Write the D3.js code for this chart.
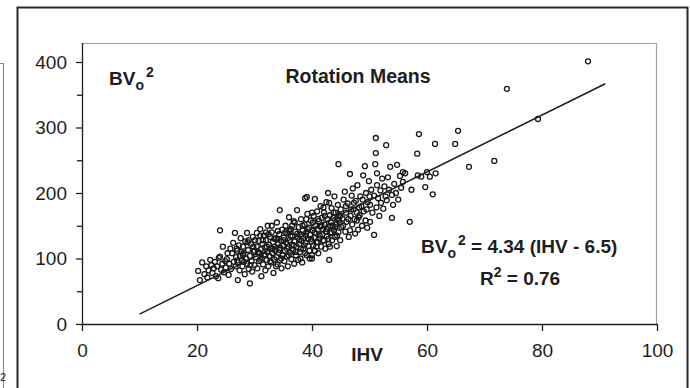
<!DOCTYPE html>
<html>
<head>
<meta charset="utf-8">
<script src="https://cdn.jsdelivr.net/npm/d3@7"></script>
<style>
  body { margin: 0; background: #fff; }
  text { font-family: Arial, "Liberation Sans", sans-serif; fill: #1e1e1e; }
</style>
</head>
<body>
<script>
// tick values
var xTicks = [0, 20, 40, 60, 80, 100];
var yTicks = [0, 100, 200, 300, 400];
var yMinorTicks = [50, 150, 250, 350];

// fitted line: BVo2 = 4.34 (IHV - 6.5), drawn from IHV 10 to 91
var slope = 4.34;
var offset = 6.5;
var lineRange = [10, 91];

// rotation means, [IHV, BVo2]
var rotationMeans = [
  [20.2,81],[20.5,67],[20.9,94],[21.3,76],[21.6,88],[21.8,71],[22,82],[22.3,98],[22.5,90],[22.7,78],
  [22.9,85],[23.1,95],[23.3,73],[23.5,88],[23.7,70],[23.8,101],[24,103],[24,143],[24.2,83],[24.5,118],
  [24.4,92],[24.7,79],[24.9,96],
  [25,86],[25.2,99],[25.3,108],[25.5,75],[25.6,92],[25.8,115],[25.9,84],[26.1,108],[26.3,124],[26.4,95],
  [26.6,139],[26.7,88],[26.8,102],[27,112],[27.1,67],[27.1,94],[27.3,120],[27.4,82],[27.5,104],[27.6,131],
  [27.8,97],[27.9,88],[28,118],[28.1,108],[28.3,76],[28.4,126],[28.5,100],[28.7,139],[28.7,92],[28.9,113],
  [29,84],[29.2,62],[29.2,104],[29.4,122],[29.5,96],[29.6,80],[29.7,133],[29.9,110],[30,90],
  [30.2,102],[30.4,139],[30.4,118],[30.5,85],[30.7,127],[30.8,96],[30.9,108],[31,145],[31.1,114],[31.2,73],
  [31.3,100],[31.4,122],[31.5,91],[31.6,135],[31.7,106],[31.8,117],[31.9,82],[32,128],[32.1,98],[32.2,110],
  [32.3,150],[32.4,88],[32.5,121],[32.6,104],[32.7,133],[32.8,115],[32.9,94],[33,140],[33.1,108],[33.2,125],
  [33.3,78],[33.4,99],[33.5,118],[33.6,112],[33.7,131],[33.8,102],[33.9,155],[34,91],[34.1,122],[34.2,109],
  [34.3,137],[34.4,174],[34.4,97],[34.5,116],[34.6,127],[34.7,85],[34.8,144],[34.9,105],[35,120],
  [35.1,132],[35.2,96],[35.3,112],[35.4,150],[35.5,124],[35.6,103],[35.7,138],[35.8,88],[35.9,118],[36,163],
  [36.1,128],[36.2,109],[36.3,145],[36.4,99],[36.5,121],[36.6,134],[36.7,113],[36.8,157],[36.9,92],[37,126],
  [37.1,141],[37.2,105],[37.3,118],[37.4,174],[37.5,132],[37.6,98],[37.7,148],[37.8,122],[37.9,110],[38,137],
  [38.1,160],[38.2,127],[38.3,94],[38.4,143],[38.5,115],[38.6,131],[38.7,152],[38.8,192],[38.8,108],[38.9,124],
  [39,140],[39.1,105],[39.1,194],[39.2,168],[39.3,130],[39.4,119],[39.5,147],[39.6,100],[39.7,136],[39.8,158],
  [39.9,126],[40,105],[40,100],
  [40.1,143],[40.2,120],[40.3,165],[40.4,132],[40.5,191],[40.5,112],[40.6,150],[40.7,138],[40.8,125],[40.9,172],
  [41,144],[41.1,108],[41.2,157],[41.3,130],[41.4,149],[41.5,180],[41.6,118],[41.7,162],[41.8,137],[41.9,145],
  [42,127],[42.1,170],[42.2,152],[42.3,115],[42.4,141],[42.5,186],[42.6,134],[42.7,160],[42.8,200],[42.8,148],
  [42.9,122],[43,98],[43.1,118],[43.1,166],[43.2,139],[43.3,155],[43.4,177],[43.5,128],[43.6,150],[43.7,162],
  [43.8,143],[43.9,195],[44,133],[44.1,170],[44.2,152],[44.3,119],[44.4,160],[44.5,182],[44.6,244],[44.6,140],
  [44.7,166],[44.8,155],[44.9,128],[45,175],
  [45.1,148],[45.3,161],[45.5,190],[45.7,202],[45.8,141],[45.9,170],[46,156],[46.2,184],[46.4,133],[46.6,229],
  [46.6,143],[46.7,165],[46.9,196],[47,152],[47.1,207],[47.2,175],[47.4,160],[47.5,138],[47.6,188],[47.8,170],
  [47.9,212],[48,144],[48.1,163],[48.3,166],[48.4,195],[48.6,180],[48.7,150],[48.9,227],[49,172],[49.2,241],
  [49.3,158],[49.4,200],[49.6,147],[49.7,186],[49.9,218],[50.1,156],[50.1,182],[50.3,205],[50.5,170],
  [50.8,136],[50.8,196],[51,244],[51.1,261],[51.1,284],[51.2,178],[51.3,230],[51.3,212],[51.5,192],[51.7,165],
  [51.9,204],[52,185],[52.2,222],[52.4,176],[52.6,210],[52.8,195],[52.9,273],[53,189],[53.2,224],[53.4,205],
  [53.6,240],[53.9,197],[53.9,162],[54.1,182],[54.3,214],[54.6,200],[54.8,243],[55,190],[55.3,226],[55.5,208],
  [55.8,232],[55.8,217],[56.2,230],[57,156],[57.3,205],[58.3,260],[58.4,227],[58.6,290],[59,225],[59.7,209],
  [60,232],[60.5,225],[61,198],[61.4,275],[61.5,230],[64.9,275],[65.4,295],[67.3,240],[71.7,249],[73.9,359],
  [79.3,313],[88,401],
  // second pass over the dense core
  [26.9,115],[27.7,110],[28.2,95],[28.8,125],[29.3,90],[29.8,118],[30.1,128],[30.6,110],[31.05,98],[31.45,128],
  [31.9,105],[32.15,118],[32.45,137],[32.75,96],[33.15,115],[33.45,130],[33.75,88],[34.05,142],[34.35,113],[34.65,100],
  [35.05,128],[35.35,140],[35.65,115],[35.95,105],[36.25,135],[36.55,150],[36.85,120],[37.15,110],[37.45,138],[37.75,128],
  [38.05,115],[38.35,150],[38.65,120],[38.95,135],[39.25,145],[39.55,112],[39.85,130],[40.15,155],[40.45,140],[40.75,118],
  [41.05,160],[41.35,135],[41.65,150],[41.95,128],[42.25,165],[42.55,145],[42.85,130],[43.15,150],[43.45,140],[43.75,170],
  [44.05,148],[44.35,135],[44.65,158],[44.95,165],[45.4,150],[45.9,180],[46.3,160],[46.8,175],[47.3,185],[47.8,158],
  [48.2,178],[48.8,190],[49.5,175],[50,195],[36,142],[37,155],[38,100],[39,160],[40,170],[41,125],
  [42,178],[43,185],[34,130],[33,150],[32,140],[31,135],[30,112],[29,128],[28,105],[27,97]
];

var margin = {top: 43, right: 33, bottom: 64, left: 82},
    width = 690 - margin.left - margin.right,
    height = 388 - margin.top - margin.bottom;

var x = d3.scaleLinear().domain([0, 100]).range([0, width]);
var y = d3.scaleLinear().domain([0, 400]).range([height, 19]);

var root = d3.select("body")
    .append("svg")
    .attr("width", 690)
    .attr("height", 388);

// leftover frame bits from the page
root.append("path")
    .attr("d", "M0,63.5H3.5V388")
    .style("fill", "none")
    .style("stroke", "#8a8a8a")
    .style("stroke-width", 1.2);
root.append("text")
    .attr("x", 0)
    .attr("y", 381)
    .style("font-size", "11px")
    .text("2");

// outer chart frame
root.append("path")
    .attr("d", "M17.5,392V7.5H687.5V392")
    .style("fill", "none")
    .style("stroke", "#2a2a2a")
    .style("stroke-width", 2);

var svg = root.append("g")
    .attr("transform", "translate(" + margin.left + "," + margin.top + ")");

// plot area border (top and right are grey)
svg.append("path")
    .attr("d", "M0,0.5H" + (width - 0.5) + "V" + height)
    .style("fill", "none")
    .style("stroke", "#a0a0a0")
    .style("stroke-width", 1.2);

var xaxis = d3.axisBottom(x)
    .tickValues(xTicks)
    .tickSize(7)
    .tickPadding(13)
    .tickSizeOuter(0);

var yaxis = d3.axisLeft(y)
    .tickValues(yTicks)
    .tickSize(6)
    .tickPadding(9)
    .tickSizeOuter(0);

var yaxisMinor = d3.axisLeft(y)
    .tickValues(yMinorTicks)
    .tickSize(5)
    .tickFormat("")
    .tickSizeOuter(0);

svg.append("g")
    .attr("class", "x axis")
    .attr("transform", "translate(0," + height + ")")
    .call(xaxis);

svg.append("g")
    .attr("class", "y axis")
    .call(yaxis);

svg.append("g")
    .attr("class", "y minor")
    .call(yaxisMinor);

svg.selectAll(".minor path").remove();
svg.select(".y.axis path").attr("d", "M0.5,0V" + height);

svg.selectAll(".axis path, .axis line, .minor line")
    .style("stroke", "#1e1e1e")
    .style("stroke-width", 1.3);

svg.selectAll(".axis text")
    .style("font-size", "19px")
    .style("font-family", "Arial, 'Liberation Sans', sans-serif")
    .style("fill", "#1e1e1e");

// points
svg.selectAll(".dot")
    .data(rotationMeans)
    .enter().append("circle")
    .attr("class", "dot")
    .attr("cx", function(d) { return x(d[0]); })
    .attr("cy", function(d) { return y(d[1]); })
    .attr("r", 2.5)
    .style("fill", "none")
    .style("stroke", "#181818")
    .style("stroke-width", 1.3);

// regression line
var fit = d3.line()
    .x(function(d) { return x(d); })
    .y(function(d) { return y(slope * (d - offset)); });

svg.append("path")
    .attr("d", fit(lineRange))
    .style("fill", "none")
    .style("stroke", "#1e1e1e")
    .style("stroke-width", 1.5);

// labels
var lbl = root.append("text")
    .attr("x", 109)
    .attr("y", 85)
    .style("font-size", "19px")
    .style("font-weight", "bold");
lbl.append("tspan").text("BV");
lbl.append("tspan").attr("dy", 5).style("font-size", "14px").text("o");
lbl.append("tspan").attr("dy", -13).attr("dx", 2).style("font-size", "14px").text("2");

root.append("text")
    .attr("x", 358)
    .attr("y", 83)
    .attr("text-anchor", "middle")
    .style("font-size", "19.5px")
    .style("font-weight", "bold")
    .text("Rotation Means");

var eq = root.append("text")
    .attr("x", 421)
    .attr("y", 253)
    .style("font-size", "19px")
    .style("font-weight", "bold");
eq.append("tspan").text("BV");
eq.append("tspan").attr("dy", 5).style("font-size", "14px").text("o");
eq.append("tspan").attr("dy", -13).attr("dx", 2).style("font-size", "14px").text("2");
eq.append("tspan").attr("dy", 8).text(" = 4.34 (IHV - 6.5)");

var r2 = root.append("text")
    .attr("x", 480)
    .attr("y", 285)
    .style("font-size", "19px")
    .style("font-weight", "bold");
r2.append("tspan").text("R");
r2.append("tspan").attr("dy", -8).style("font-size", "14px").text("2");
r2.append("tspan").attr("dy", 8).text(" = 0.76");

root.append("text")
    .attr("x", 367)
    .attr("y", 361)
    .attr("text-anchor", "middle")
    .style("font-size", "19px")
    .style("font-weight", "bold")
    .text("IHV");
</script>
</body>
</html>
